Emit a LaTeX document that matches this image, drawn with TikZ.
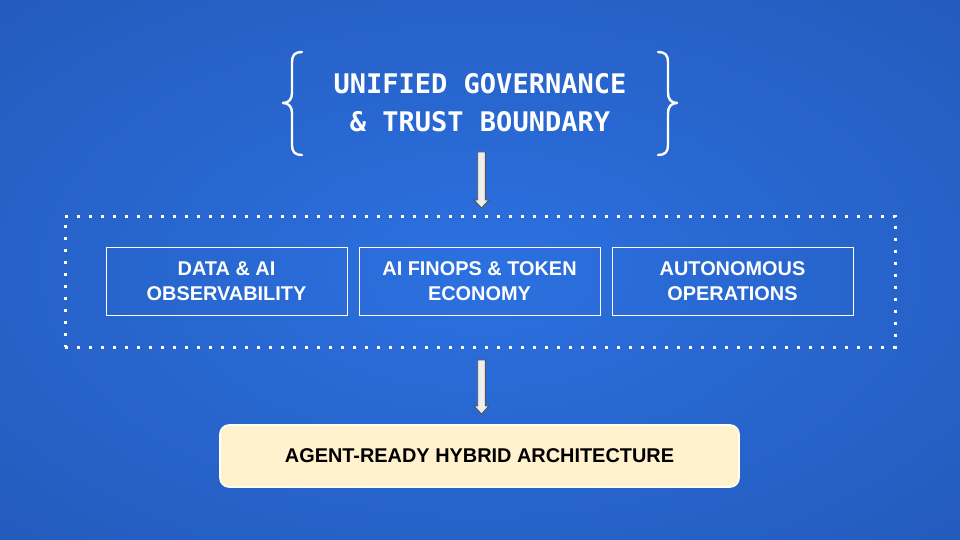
\documentclass[tikz,border=0pt]{standalone}
\usepackage{fontspec}
\setmainfont{Liberation Sans}
\newfontfamily\monof{DejaVu Sans Mono}
\usetikzlibrary{calc}
\definecolor{bgin}{HTML}{2C70E0}
\definecolor{bgout}{HTML}{1B4799}
\definecolor{arrowfill}{HTML}{EEEEEE}
\definecolor{arrowline}{HTML}{555555}
\definecolor{cream}{HTML}{FFF2CC}
\pgfdeclareradialshading{bgshade}{\pgfpoint{0bp}{0bp}}{color(0bp)=(bgin); color(71bp)=(bgout)}
\tikzset{
  brace/.style={draw=white, line width=2.4pt, line cap=round, line join=round},
  titletext/.style={text=white, align=center, font=\monof\bfseries\fontsize{27}{37.7}\selectfont, inner sep=0pt},
  dotbox/.style={draw=white, line width=3pt, dash pattern=on 3pt off 9pt, minimum width=830pt, minimum height=131pt, inner sep=0pt},
  pillar/.style={draw=white, line width=1pt, minimum width=241pt, minimum height=68pt, inner sep=0pt, text=white, align=center, font=\bfseries\fontsize{19.9}{25}\selectfont},
  basebox/.style={draw=white!85!cream, line width=1.6pt, fill=cream, rounded corners=9pt, minimum width=519pt, minimum height=62pt, inner sep=0pt, text=black, font=\bfseries\fontsize{19.9}{22}\selectfont},
  fatarrow/.style={draw=arrowline, line width=0.9pt, fill=arrowfill, line join=miter}
}
\newcommand\blockarrow[2]{%
  \path[fatarrow] let \p1=(#1), \p2=(#2) in
    (\x1-3.8pt,\y1) -- (\x1+3.8pt,\y1) -- (\x1+3.8pt,\y2+8pt) -- (\x1+7.4pt,\y2+8pt)
    -- (\x1,\y2) -- (\x1-7.4pt,\y2+8pt) -- (\x1-3.8pt,\y2+8pt) -- cycle;}
\begin{document}
\begin{tikzpicture}[x=1pt,y=-1pt]
\shade[shading=bgshade] (0,0) rectangle (960,540);
\useasboundingbox (0,0) rectangle (960,540);
% braces
\draw[brace] (302,52) .. controls (295,52) and (292,55) .. (292,62) -- (292,93)
  .. controls (292,99) and (289,103) .. (283,103)
  .. controls (289,103) and (292,107) .. (292,113) -- (292,145)
  .. controls (292,152) and (295,155) .. (302,155);
\draw[brace] (658,52) .. controls (665,52) and (668,55) .. (668,62) -- (668,93)
  .. controls (668,99) and (671,103) .. (677,103)
  .. controls (671,103) and (668,107) .. (668,113) -- (668,145)
  .. controls (668,152) and (665,155) .. (658,155);
\node[titletext] (gov) at (480,103) {UNIFIED GOVERNANCE\\\& TRUST BOUNDARY};
% dotted group
\node[dotbox] (grp) at (480,281.5) {};
\node[pillar] (obs) at (226.5,281.5) {DATA \& AI\\OBSERVABILITY};
\node[pillar] (fin) at (479.5,281.5) {AI FINOPS \& TOKEN\\ECONOMY};
\node[pillar] (auto) at (732.5,281.5) {AUTONOMOUS\\OPERATIONS};
% base
\node[basebox] (base) at (479.5,456) {AGENT-READY HYBRID ARCHITECTURE};
% arrows
\coordinate (a1top) at (481.5,152);
\coordinate (a1tip) at (481.5,208);
\coordinate (a2top) at (481.5,360);
\coordinate (a2tip) at (481.5,414);
\blockarrow{a1top}{a1tip}
\blockarrow{a2top}{a2tip}
\end{tikzpicture}
\end{document}
